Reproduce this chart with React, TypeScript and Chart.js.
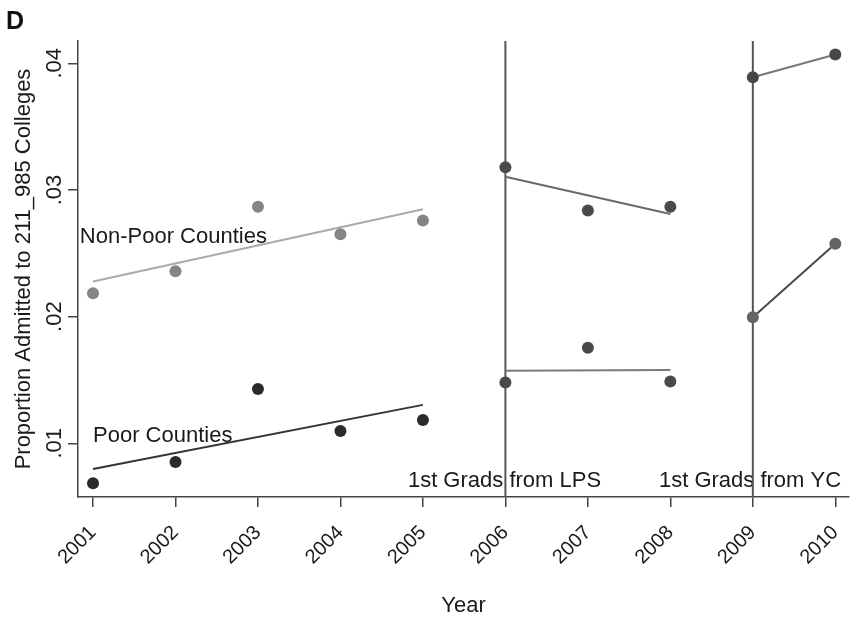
import React, { useEffect, useRef } from "react";
import { Chart, registerables } from "chart.js";

Chart.register(...registerables);

// ---- Data ----
const YEARS = [2001, 2002, 2003, 2004, 2005, 2006, 2007, 2008, 2009, 2010];
const YEAR_LABELS = ["2001", "2002", "2003", "2004", "2005", "2006", "2007", "2008", "2009", "2010"];
const Y_TICKS = [0.01, 0.02, 0.03, 0.04];
const Y_TICK_LABELS = [".01", ".02", ".03", ".04"];

const YEARS_PRE = [2001, 2002, 2003, 2004, 2005];
const NONPOOR_PRE = [0.02185, 0.02359, 0.02868, 0.0265, 0.02758];
const POOR_PRE = [0.00684, 0.00852, 0.01429, 0.01097, 0.01184];

const YEARS_LPS = [2006, 2007, 2008];
const NONPOOR_LPS = [0.03179, 0.02837, 0.02868];
const POOR_LPS = [0.01479, 0.01755, 0.01487];

const YEARS_YC = [2009, 2010];
const NONPOOR_YC = [0.0389, 0.0407];
const POOR_YC = [0.01995, 0.02575];

// fitted trend lines (endpoints)
const FIT_PRE_X = [2001, 2005];
const FIT_NONPOOR_PRE = [0.02277, 0.02847];
const FIT_POOR_PRE = [0.00797, 0.01303];
const FIT_LPS_X = [2006, 2008];
const FIT_NONPOOR_LPS = [0.03105, 0.0281];
const FIT_POOR_LPS = [0.01573, 0.01579];

const REFORM_YEARS = [2006, 2009];
const REFORM_LABELS = ["1st Grads from LPS", "1st Grads from YC"];
const GROUP_LABELS = ["Non-Poor Counties", "Poor Counties"];

// axis ranges and annotation anchors (data units)
const X_MIN = 2000.818;
const X_MAX = 2010.166;
const Y_MIN = 0.005758;
const Y_MAX = 0.04176;
const GROUP_LABEL_ANCHORS = [
  [2000.84, 0.0258],
  [2001.0, 0.0101],
];
const REFORM_LABEL_ANCHORS = [
  [2007.16, 0.00655],
  [2010.07, 0.00655],
];

const FONT = '"Liberation Sans", Arial, Helvetica, sans-serif';

const zip = (xs: number[], ys: number[]) => xs.map((x, i) => ({ x, y: ys[i] }));

const textPlugin = {
  id: "textAnnotations",
  beforeDatasetsDraw(chart: any) {
    const { ctx, scales } = chart;
    const x = scales.x;
    const y = scales.y;
    ctx.save();
    ctx.font = `22px ${FONT}`;
    ctx.fillStyle = "#1a1a1a";
    ctx.textBaseline = "alphabetic";
    ctx.textAlign = "left";
    GROUP_LABELS.forEach((t, i) => {
      ctx.fillText(t, x.getPixelForValue(GROUP_LABEL_ANCHORS[i][0]), y.getPixelForValue(GROUP_LABEL_ANCHORS[i][1]));
    });
    ctx.textAlign = "right";
    REFORM_LABELS.forEach((t, i) => {
      ctx.fillText(t, x.getPixelForValue(REFORM_LABEL_ANCHORS[i][0]), y.getPixelForValue(REFORM_LABEL_ANCHORS[i][1]));
    });
    ctx.font = `bold 25px ${FONT}`;
    ctx.textAlign = "left";
    ctx.fillStyle = "#111";
    ctx.fillText("D", 6, 29);
    ctx.restore();
  },
};

const pointSet = (data: any[], color: string) => ({
  data,
  showLine: false,
  pointRadius: 6,
  pointBackgroundColor: color,
  pointBorderColor: color,
  pointBorderWidth: 0,
});

const lineSet = (data: any[], color: string, width = 2) => ({
  data,
  showLine: true,
  borderColor: color,
  borderWidth: width,
  pointRadius: 0,
  fill: false,
  tension: 0,
});

export default function App() {
  const ref = useRef<HTMLCanvasElement>(null);

  useEffect(() => {
    document.body.style.margin = "0";
    const canvas = ref.current;
    if (!canvas) return;

    const datasets: any[] = [
      pointSet(zip(YEARS_PRE, NONPOOR_PRE), "#858585"),
      pointSet(zip(YEARS_PRE, POOR_PRE), "#2a2a2a"),
      pointSet(zip(YEARS_LPS, NONPOOR_LPS), "#4a4a4a"),
      pointSet(zip(YEARS_LPS, POOR_LPS), "#4a4a4a"),
      pointSet(zip(YEARS_YC, NONPOOR_YC), "#474747"),
      pointSet(zip(YEARS_YC, POOR_YC), "#646464"),
      lineSet(zip(FIT_PRE_X, FIT_NONPOOR_PRE), "#aaaaaa"),
      lineSet(zip(FIT_PRE_X, FIT_POOR_PRE), "#333333"),
      lineSet(zip(FIT_LPS_X, FIT_NONPOOR_LPS), "#6a6a6a"),
      lineSet(zip(FIT_LPS_X, FIT_POOR_LPS), "#7a7a7a"),
      lineSet(zip(YEARS_YC, NONPOOR_YC), "#777777"),
      lineSet(zip(YEARS_YC, POOR_YC), "#484848"),
      ...REFORM_YEARS.map((yr) =>
        lineSet(
          [
            { x: yr, y: Y_MIN },
            { x: yr, y: Y_MAX },
          ],
          "#555555",
          2
        )
      ),
    ];

    const chart = new Chart(canvas, {
      type: "scatter",
      data: { datasets },
      plugins: [textPlugin],
      options: {
        animation: false,
        responsive: false,
        maintainAspectRatio: false,
        devicePixelRatio: 1,
        layout: { padding: { top: 41, right: 8, bottom: 0, left: 0 } },
        plugins: {
          legend: { display: false },
          tooltip: { enabled: false },
        },
        scales: {
          x: {
            type: "linear",
            min: X_MIN,
            max: X_MAX,
            afterBuildTicks: (s: any) => {
              s.ticks = YEARS.map((v) => ({ value: v }));
            },
            afterFit: (s: any) => {
              s.height = 125;
              s.paddingLeft = 0;
              s.paddingRight = 0;
            },
            ticks: {
              autoSkip: false,
              callback: (v: any) => YEAR_LABELS[YEARS.indexOf(Number(v))] ?? "",
              minRotation: 45,
              maxRotation: 45,
              padding: 14,
              color: "#1a1a1a",
              font: { size: 20, family: FONT },
            },
            grid: {
              drawOnChartArea: false,
              drawTicks: true,
              tickLength: 10,
              color: "#444",
              lineWidth: 1.5,
            },
            border: { display: true, color: "#444", width: 1.5 },
            title: {
              display: true,
              text: "Year",
              color: "#1a1a1a",
              font: { size: 22, family: FONT },
              padding: { top: 0, bottom: 3 },
            },
          },
          y: {
            type: "linear",
            min: Y_MIN,
            max: Y_MAX,
            afterBuildTicks: (s: any) => {
              s.ticks = Y_TICKS.map((v) => ({ value: v }));
            },
            afterFit: (s: any) => {
              s.width = 78;
              s.paddingTop = 0;
              s.paddingBottom = 0;
            },
            ticks: {
              autoSkip: false,
              callback: (v: any) => Y_TICK_LABELS[Y_TICKS.indexOf(Number(v))] ?? "",
              minRotation: 90,
              maxRotation: 90,
              crossAlign: "center",
              padding: -2,
              color: "#1a1a1a",
              font: { size: 22, family: FONT },
            },
            grid: {
              drawOnChartArea: false,
              drawTicks: true,
              tickLength: 10,
              color: "#444",
              lineWidth: 1.5,
            },
            border: { display: true, color: "#444", width: 1.5 },
            title: {
              display: true,
              text: "Proportion Admitted to 211_985 Colleges",
              color: "#1a1a1a",
              font: { size: 22, family: FONT },
              padding: { top: 11, bottom: 0 },
            },
          },
        },
      } as any,
    });

    return () => chart.destroy();
  }, []);

  return (
    <div style={{ position: "absolute", left: 0, top: 0, width: 857, height: 622, background: "#fff" }}>
      <canvas ref={ref} width={857} height={622} style={{ display: "block" }} />
    </div>
  );
}
